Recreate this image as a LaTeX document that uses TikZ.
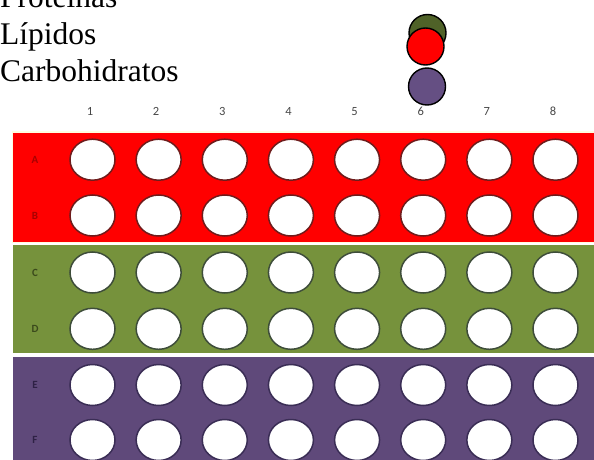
\documentclass[tikz,border=0pt]{standalone}
\usepackage{fontspec}
\usepackage{xcolor}
\usepackage{tikz}
\usetikzlibrary{shapes.geometric}
\setmainfont{Liberation Serif}
\newfontfamily\platefont{Carlito}

\definecolor{bandred}{HTML}{FF0000}
\definecolor{bandgreen}{HTML}{76923C}
\definecolor{bandpurple}{HTML}{5F497A}
\definecolor{dotgreen}{HTML}{4F6228}
\definecolor{dotpurple}{HTML}{654F83}
\definecolor{rimred}{HTML}{6E1C1C}
\definecolor{rimgreen}{HTML}{3E4D3A}
\definecolor{rimpurple}{HTML}{3A2D55}
\definecolor{tagred}{HTML}{A80000}
\definecolor{taggreen}{HTML}{3B4A1C}
\definecolor{tagpurple}{HTML}{2E2145}

\tikzset{
  legendtext/.style={anchor=base west,inner sep=0pt,font=\fontsize{31.5}{37}\selectfont},
  legenddot/.style={circle,draw=black,line width=1.4pt,minimum size=37pt,inner sep=0pt},
  well/.style={ellipse,fill=white,line width=1.5pt,minimum width=45pt,minimum height=41pt,inner sep=0pt},
  coltag/.style={font=\platefont\fontsize{12.5}{12.5}\selectfont,text=black!72},
  rowtag/.style={font=\platefont\bfseries\fontsize{11}{11}\selectfont}
}

\begin{document}
\begin{tikzpicture}[x=1pt,y=-1pt]
    \useasboundingbox (0,0) rectangle (594,460);
    \clip (0,0) rectangle (594,460);

    % legend
    \node[legendtext] (prot) at (0,8) {Proteínas};
    \node[legendtext] (lip) at (0,45) {Lípidos};
    \node[legendtext] (carb) at (0,81.7) {Carbohidratos};
    \node[legenddot,fill=dotgreen] (dotprot) at (427.5,33) {};
    \node[legenddot,fill=bandred] (dotlip) at (425.5,46.5) {};
    \node[legenddot,fill=dotpurple] (dotcarb) at (427,86.5) {};

    % bands of the plate
    \fill[white!88!yellow] (11.5,131) rectangle (600,243);
    \fill[bandred] (12.7,132.7) rectangle (600,241.7);
    \fill[bandgreen] (12.7,245) rectangle (600,353);
    \fill[bandpurple] (12.7,357.3) rectangle (600,470);

    % column numbers
    \foreach \col in {1,...,8} {
      \node[coltag] (col\col) at ({90+66.14*(\col-1)},111.5) {\col};
    }

    % rows of wells
    \foreach \row/\y/\rim/\tag in {A/159.7/rimred/tagred,B/215.5/rimred/tagred,
        C/272.5/rimgreen/taggreen,D/328.8/rimgreen/taggreen,
        E/385/rimpurple/tagpurple,F/440/rimpurple/tagpurple} {
      \node[rowtag,text=\tag] (row\row) at (35,\y) {\row};
      \foreach \col in {1,...,8} {
        \node[well,draw=\rim] (well\row\col) at ({92.5+66.14*(\col-1)},\y) {};
      }
    }
  \end{tikzpicture}
\end{document}
